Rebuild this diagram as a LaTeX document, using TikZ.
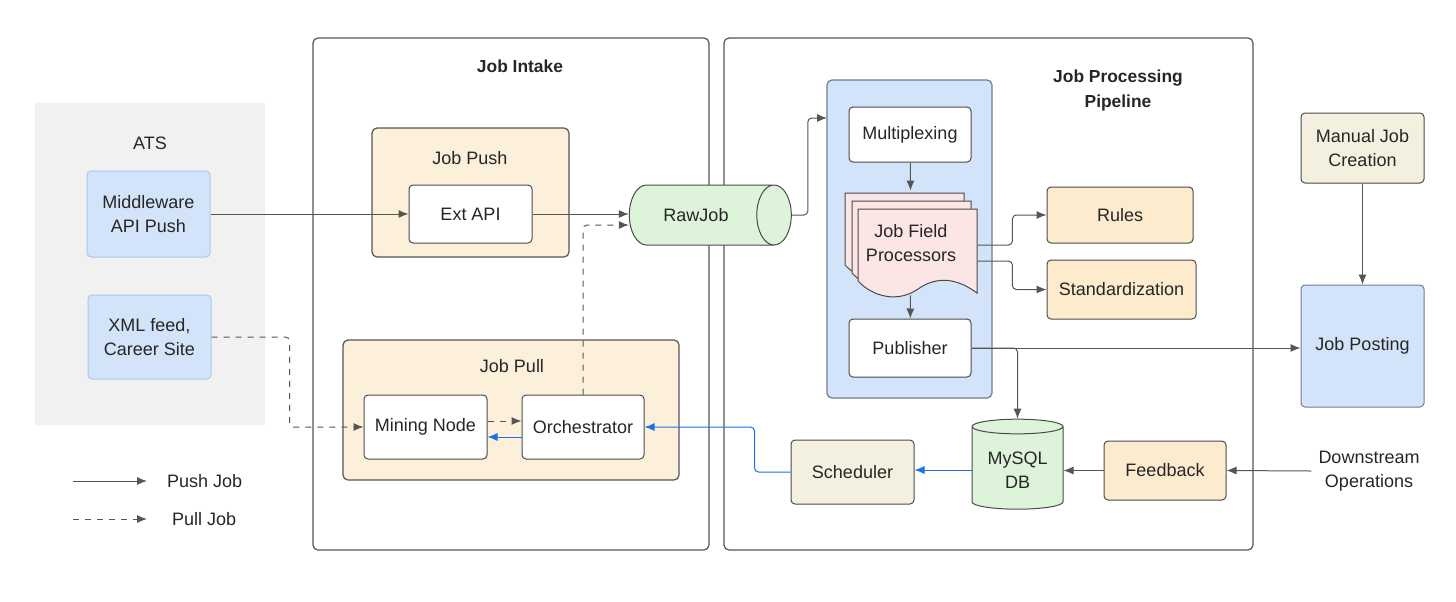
\documentclass[tikz,border=0pt]{standalone}
\usepackage{fontspec}
\setmainfont{Liberation Sans}
\usetikzlibrary{arrows.meta,shapes.geometric}
\definecolor{edgegray}{HTML}{4A4A4A}
\definecolor{linegray}{HTML}{555555}
\definecolor{atsgray}{HTML}{F1F1F1}
\definecolor{bluefill}{HTML}{D3E4FA}
\definecolor{blueedge}{HTML}{A9C8EF}
\definecolor{pipeedge}{HTML}{6E7C92}
\definecolor{orangefill}{HTML}{FCF0DA}
\definecolor{peachfill}{HTML}{FDEBCD}
\definecolor{beigefill}{HTML}{F4F0DF}
\definecolor{greenfill}{HTML}{DDF4DA}
\definecolor{pinkfill}{HTML}{FCE5E5}
\definecolor{bluearrow}{HTML}{1A73E8}
\tikzset{
	every node/.style={font=\fontsize{9}{12}\selectfont,text=black!85},
	box/.style={draw=edgegray,line width=.5pt,rounded corners=2pt,align=center,fill=white},
	group/.style={draw=linegray,line width=.6pt,rounded corners=2.5pt},
	title/.style={font=\fontsize{8.7}{12.5}\selectfont\bfseries,align=center},
	push/.style={->,draw=linegray,line width=.5pt,rounded corners=2pt},
	pull/.style={push,dashed},
	sched/.style={push,draw=bluearrow},
}
\begin{document}
\begin{tikzpicture}[x=.5pt,y=-.5pt,>={Latex[length=5pt,width=4pt]}]
	\useasboundingbox (0,0) rectangle (1456,601);
	\begin{scope}
		\fill[atsgray] (35,103) rectangle (265,425);
		\node at (150,143) {ATS};
		\node[box,draw=blueedge,fill=bluefill,minimum width=61.5pt,minimum height=43pt] (mw) at (148.5,214) {Middleware\\API Push};
		\node[box,draw=blueedge,fill=bluefill,minimum width=61.5pt,minimum height=42pt] (xml) at (149.5,337) {XML feed,\\Career Site};
	\end{scope}
	\begin{scope}
		\draw[group,fill=white] (313,38) rectangle (709,550);
		\node[title] at (520,66) {Job Intake};
		\draw[group,fill=orangefill] (372,128) rectangle (569,257);
		\node at (470,158) {Job Push};
		\node[box,minimum width=61.5pt,minimum height=29pt] (extapi) at (470.5,214) {Ext API};
		\draw[group,fill=orangefill] (343,340) rectangle (679,480);
		\node at (512,366) {Job Pull};
		\node[box,minimum width=61.5pt,minimum height=32pt] (mining) at (425.5,427) {Mining Node};
		\node[box,minimum width=61pt,minimum height=32pt] (orch) at (583,427) {Orchestrator};
	\end{scope}
	\begin{scope}
		\draw[group,fill=white] (724,38) rectangle (1253,550);
		\node[title] at (1118,90) {Job Processing\\Pipeline};
		\draw[group,draw=pipeedge,fill=bluefill] (827,80) rectangle (992,398);
		\coordinate (pipein) at (827,118);
		\node[box,minimum width=61pt,minimum height=27.5pt] (mux) at (910,134.5) {Multiplexing};
		\foreach \dx/\dy in {0/0,7/8,13/16}
			\filldraw[fill=pinkfill,draw=edgegray,line width=.5pt,shift={(\dx,\dy)}]
				(845,193) -- (964,193) -- (964,277)
				.. controls (945,263) and (925,259) .. (905,273)
				.. controls (885,287) and (860,281) .. (845,265) -- cycle
			;
		\node[minimum width=66pt,minimum height=52pt,align=center] (jfp) at (911,243) {Job Field\\Processors};
		\node[box,minimum width=61pt,minimum height=29pt] (pub) at (910,348) {Publisher};
		\node[box,fill=peachfill,minimum width=73pt,minimum height=28pt] (rules) at (1120,215) {Rules};
		\node[box,fill=peachfill,minimum width=74.5pt,minimum height=29.5pt] (std) at (1121.5,289.5) {Standardization};
		\node[box,fill=beigefill,minimum width=61.5pt,minimum height=32pt] (sched) at (852.5,472) {Scheduler};
		\node[box,fill=peachfill,minimum width=61pt,minimum height=29.5pt] (fb) at (1165,470.5) {Feedback};
		\node[cylinder,draw=edgegray,line width=.5pt,shape border rotate=90,aspect=.2,
			minimum height=45pt,minimum width=45.5pt,align=center,
			cylinder uses custom fill,cylinder body fill=greenfill,cylinder end fill=greenfill] (mysql) at (1017.5,470) {MySQL\\DB};
	\end{scope}
	\node[cylinder,draw=edgegray,line width=.5pt,aspect=1.3,minimum height=81pt,minimum width=30pt,
		cylinder uses custom fill,cylinder body fill=greenfill,cylinder end fill=greenfill] (rawjob) at (696,215) {RawJob};
	\begin{scope}
		\node[box,fill=beigefill,minimum width=61.5pt,minimum height=35pt] (manual) at (1362.5,148) {Manual Job\\Creation};
		\node[box,draw=pipeedge,fill=bluefill,minimum width=61.5pt,minimum height=61pt] (jpost) at (1362.5,346) {Job Posting};
		\node[align=center] (down) at (1369,471) {Downstream\\Operations};
	\end{scope}
	\begin{scope}
		\draw[push] (mw) -- (extapi);
		\draw[push] (extapi.east) -- (extapi.east -| rawjob.west);
		\draw[pull] (orch.north) |- ([yshift=-5pt]rawjob.west);
		\draw[pull] (xml.east) -- ++(78,0) |- (mining.west);
		\draw[pull] ([yshift=3pt]mining.east) -- ([yshift=3pt]orch.west);
		\draw[sched] ([yshift=-5pt]orch.west) -- ([yshift=-5pt]mining.east);
		\draw[sched] (sched.west) -- ++(-36,0) |- (orch.east);
		\draw[sched] (mysql.west) -- (mysql.west -| sched.east);
		\draw[push] (fb.west) -- (fb.west -| mysql.east);
		\draw[push] (down.west) -- (fb.east);
		\draw[push] (rawjob.east) -- ++(16,0) |- (pipein);
		\draw[push] (mux) -- (jfp);
		\draw[push] (jfp) -- (pub);
		\draw[push] ([yshift=-1pt]jfp.east) -- ++(35,0) |- (rules.west);
		\draw[push] ([yshift=-9pt]jfp.east) -- ++(35,0) |- (std.west);
		\draw[push] (pub.east) -- (pub.east -| jpost.west);
		\draw[push] (pub.east) -| (mysql.north);
		\draw[push] (manual) -- (jpost);
	\end{scope}
	\begin{scope}
		\coordinate (pusha) at (73,481);
		\coordinate (pushb) at (147,481);
		\coordinate (pulla) at (73,519);
		\coordinate (pullb) at (147,519);
		\draw[push] (pusha) -- (pushb);
		\draw[pull] (pulla) -- (pullb);
		\node[anchor=west] at (160,481) {Push Job};
		\node[anchor=west] at (165,519) {Pull Job};
	\end{scope}
\end{tikzpicture}
\end{document}
